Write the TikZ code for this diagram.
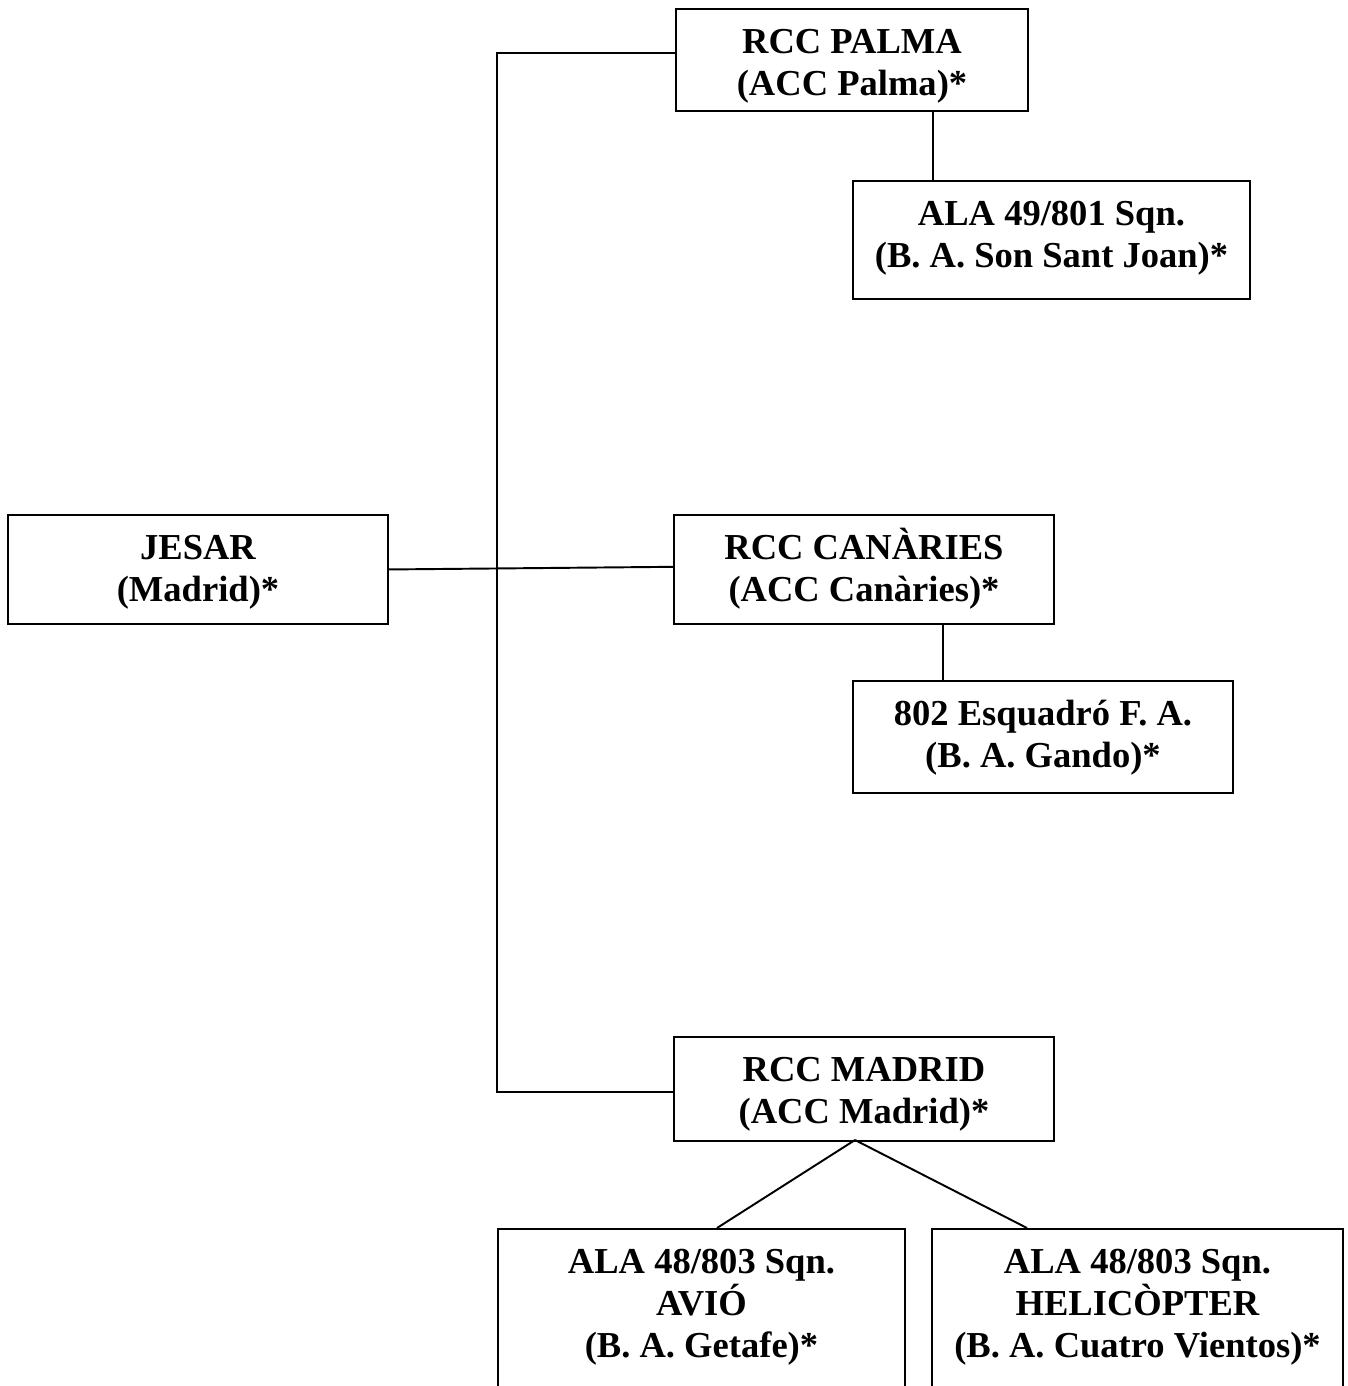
\documentclass[tikz,border=0pt]{standalone}
\usepackage{fontspec}
\setmainfont{Liberation Serif}

\begin{document}
\begin{tikzpicture}[x=0.02cm,y=-0.02cm,line width=1.1pt,
  unit node/.style={draw,rectangle,anchor=north,inner sep=0pt,minimum width=7.6cm,text height=1.74cm,align=center,font=\bfseries\fontsize{20.8}{24}\selectfont}]
  \clip (0,0) rectangle (1347,1386);

  \node[unit node,text depth=0.44cm] (jesar) at (198,514) {JESAR\\(Madrid)*};
  \node[unit node,minimum width=7.04cm,text depth=0.3cm] (palma) at (852,8) {RCC PALMA\\(ACC Palma)*};
  \node[unit node,minimum width=7.94cm,text depth=0.62cm] (ala49) at (1051.5,180) {ALA 49/801 Sqn.\\(B. A. Son Sant Joan)*};
  \node[unit node,text depth=0.44cm] (canaries) at (864,514) {RCC CANÀRIES\\(ACC Canàries)*};
  \node[unit node,text depth=0.5cm] (esq802) at (1043,680) {802 Esquadró F. A.\\(B. A. Gando)*};
  \node[unit node,text depth=0.34cm] (madrid) at (864,1036) {RCC MADRID\\(ACC Madrid)*};

  % bottom boxes run off the page
  \node[unit node,minimum width=8.14cm,text height=2.58cm,text depth=1.5cm] (avio) at (701.5,1228) {ALA 48/803 Sqn.\\AVIÓ\\(B. A. Getafe)*};
  \node[unit node,minimum width=8.22cm,text height=2.58cm,text depth=1.5cm] (heli) at (1137.5,1228) {ALA 48/803 Sqn.\\HELICÒPTER\\(B. A. Cuatro Vientos)*};

  \coordinate (ptop) at (497,53);
  \coordinate (pbot) at (497,1092);
  \coordinate (palmajoin) at (933,0);
  \coordinate (canjoin) at (943,0);
  \coordinate (madjoin) at (855,1140);
  \coordinate (aviojoin) at (717,0);
  \coordinate (helijoin) at (1027,0);

  \draw (palma.west |- ptop) -- (ptop) -- (pbot) -- (madrid.west |- pbot);
  \draw (jesar.east) -- ([yshift=1.5pt]canaries.west);
  \draw (palmajoin |- palma.south) -- (palmajoin |- ala49.north);
  \draw (canjoin |- canaries.south) -- (canjoin |- esq802.north);
  \draw (madjoin) -- (aviojoin |- avio.north);
  \draw (madjoin) -- (helijoin |- heli.north);
\end{tikzpicture}
\end{document}
